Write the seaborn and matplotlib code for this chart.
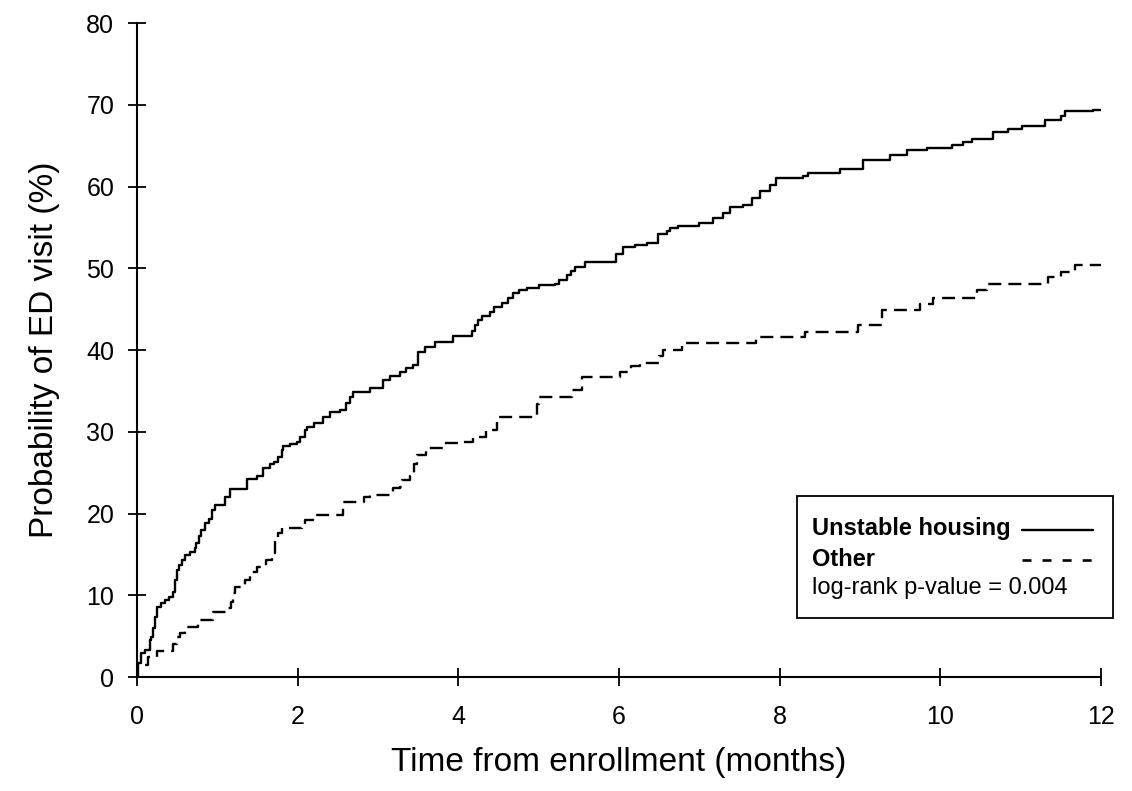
import matplotlib
matplotlib.use("Agg")
import matplotlib.pyplot as plt
import seaborn as sns
from matplotlib.patches import Rectangle
from matplotlib.lines import Line2D

# ---- data ----
unstable_t = [0, 0.01, 0.05, 0.10, 0.16, 0.18, 0.20, 0.22, 0.25, 0.30, 0.35, 0.40, 0.45, 0.47, 0.50,
              0.52, 0.56, 0.60, 0.66, 0.72, 0.74, 0.77, 0.80, 0.85, 0.90, 0.93, 0.97, 1.10, 1.16, 1.37,
              1.50, 1.57, 1.65, 1.70, 1.75, 1.80, 1.82, 1.90, 1.99, 2.03, 2.09, 2.12, 2.20, 2.32, 2.40,
              2.53, 2.60, 2.65, 2.69, 2.90, 3.06, 3.15, 3.27, 3.35, 3.44, 3.50, 3.59, 3.71, 3.94, 4.17,
              4.21, 4.25, 4.29, 4.39, 4.45, 4.55, 4.62, 4.68, 4.75, 4.85, 5.00, 5.20, 5.25, 5.35, 5.40,
              5.45, 5.58, 5.96, 6.05, 6.20, 6.35, 6.49, 6.60, 6.63, 6.73, 7.00, 7.17, 7.30, 7.38, 7.55,
              7.65, 7.75, 7.88, 7.95, 8.29, 8.35, 8.75, 9.04, 9.37, 9.58, 9.83, 10.15, 10.28, 10.40,
              10.65, 10.84, 11.02, 11.30, 11.50, 11.55, 11.90, 12.0]
unstable_p = [0, 1.7, 2.9, 3.3, 4.5, 4.9, 6.0, 7.3, 8.6, 9.0, 9.4, 9.8, 10.4, 11.9, 13.1,
              13.7, 14.3, 14.9, 15.3, 15.8, 16.4, 17.2, 18.0, 18.8, 19.3, 20.4, 21.0, 22.0, 23.0, 24.2,
              24.6, 25.6, 26.0, 26.3, 26.9, 27.8, 28.2, 28.5, 28.8, 29.3, 30.2, 30.6, 31.1, 31.8, 32.4,
              32.7, 33.5, 34.2, 34.9, 35.3, 36.3, 36.8, 37.3, 37.8, 38.2, 39.8, 40.4, 41.0, 41.7, 42.3,
              43.0, 43.7, 44.2, 44.6, 45.3, 45.8, 46.4, 47.0, 47.3, 47.6, 47.9, 48.1, 48.6, 49.2, 49.7,
              50.2, 50.8, 51.7, 52.6, 52.8, 53.1, 54.2, 54.5, 54.9, 55.2, 55.5, 56.2, 56.8, 57.5, 57.8,
              58.6, 59.4, 60.2, 61.0, 61.3, 61.6, 62.2, 63.3, 63.9, 64.5, 64.7, 65.1, 65.5, 65.8,
              66.7, 67.0, 67.4, 68.1, 68.6, 69.2, 69.4, 69.4]

other_t = [0, 0.005, 0.14, 0.25, 0.45, 0.50, 0.54, 0.60, 0.76, 0.95, 1.13, 1.17, 1.20, 1.22, 1.35,
           1.41, 1.49, 1.60, 1.68, 1.72, 1.76, 1.80, 2.05, 2.09, 2.19, 2.57, 2.82, 2.90, 3.19, 3.27,
           3.30, 3.40, 3.45, 3.49, 3.60, 3.81, 4.06, 4.18, 4.35, 4.48, 4.98, 5.00, 5.42, 5.54, 6.01,
           6.15, 6.26, 6.50, 6.55, 6.78, 7.70, 8.31, 8.98, 9.27, 9.75, 9.91, 10.46, 10.58, 11.34,
           11.50, 11.68, 12.0]
other_p = [0, 1.5, 2.5, 3.2, 4.0, 4.9, 5.4, 6.1, 7.0, 7.9, 8.4, 9.2, 10.3, 11.0, 11.9,
           12.8, 13.5, 14.3, 15.2, 16.8, 17.6, 18.2, 18.6, 19.2, 19.8, 21.4, 22.0, 22.3, 23.1, 23.3,
           24.1, 24.6, 26.0, 27.2, 28.0, 28.6, 28.8, 29.4, 30.2, 31.8, 33.4, 34.3, 35.1, 36.7, 37.3,
           38.0, 38.4, 39.3, 40.0, 40.8, 41.6, 42.2, 43.1, 44.9, 45.6, 46.4, 47.3, 48.1, 48.9,
           49.6, 50.4, 50.4]

x_ticks = [0, 2, 4, 6, 8, 10, 12]
y_ticks = [0, 10, 20, 30, 40, 50, 60, 70, 80]
series_labels = ["Unstable housing", "Other"]
pvalue_text = "log-rank p-value = 0.004"

# ---- style ----
sns.set_style("ticks")
plt.rcParams["font.family"] = ["Liberation Sans", "DejaVu Sans"]
plt.rcParams["text.color"] = "black"
plt.rcParams["axes.labelcolor"] = "black"
plt.rcParams["xtick.color"] = "black"
plt.rcParams["ytick.color"] = "black"

fig = plt.figure(figsize=(11.32, 7.91), dpi=100)
ax = fig.add_axes([0.121, 0.1441, 0.8516, 0.8268])

sns.lineplot(x=unstable_t, y=unstable_p, ax=ax, estimator=None, sort=False,
             drawstyle="steps-post", color="black", linewidth=1.7)
sns.lineplot(x=other_t, y=other_p, ax=ax, estimator=None, sort=False,
             drawstyle="steps-post", color="black", linewidth=1.7,
             linestyle=(0, (5.5, 3.0)))

ax.set_xlim(0, 12)
ax.set_ylim(0, 80)
ax.set_xticks(x_ticks)
ax.set_yticks(y_ticks)
ax.set_xticklabels([str(v) for v in x_ticks], fontsize=18)
ax.set_yticklabels([str(v) for v in y_ticks], fontsize=18)
ax.tick_params(axis="both", direction="inout", length=12.7, width=1.3, color="black",
               labelcolor="black")
ax.tick_params(axis="x", pad=14)
ax.tick_params(axis="y", pad=10)
for s in ["top", "right"]:
    ax.spines[s].set_visible(False)
for s in ["left", "bottom"]:
    ax.spines[s].set_linewidth(1.5)
    ax.spines[s].set_color("black")

ax.set_xlabel("Time from enrollment (months)", fontsize=24, labelpad=13)
ax.set_ylabel("Probability of ED visit (%)", fontsize=24, labelpad=19)

# ---- legend box ----
tr = ax.transAxes
ax.add_patch(Rectangle((0.685, 0.0902), 0.3275, 0.1866, transform=tr, fill=False,
                       edgecolor="black", linewidth=1.3, clip_on=False, zorder=5))
ax.text(0.700, 0.2270, series_labels[0], transform=tr, fontsize=17, fontweight="bold",
        va="center", ha="left")
ax.text(0.700, 0.1790, series_labels[1], transform=tr, fontsize=17, fontweight="bold",
        va="center", ha="left")
ax.text(0.700, 0.1360, pvalue_text, transform=tr, fontsize=17, va="center", ha="left")
ax.add_line(Line2D([0.918, 0.992], [0.2248, 0.2248], transform=tr, color="black",
                   linewidth=1.7, clip_on=False))
ax.add_line(Line2D([0.918, 0.992], [0.1789, 0.1789], transform=tr, color="black",
                   linewidth=1.9, linestyle=(0, (3.4, 4.2)), clip_on=False))

fig.savefig("out.png", dpi=100)
